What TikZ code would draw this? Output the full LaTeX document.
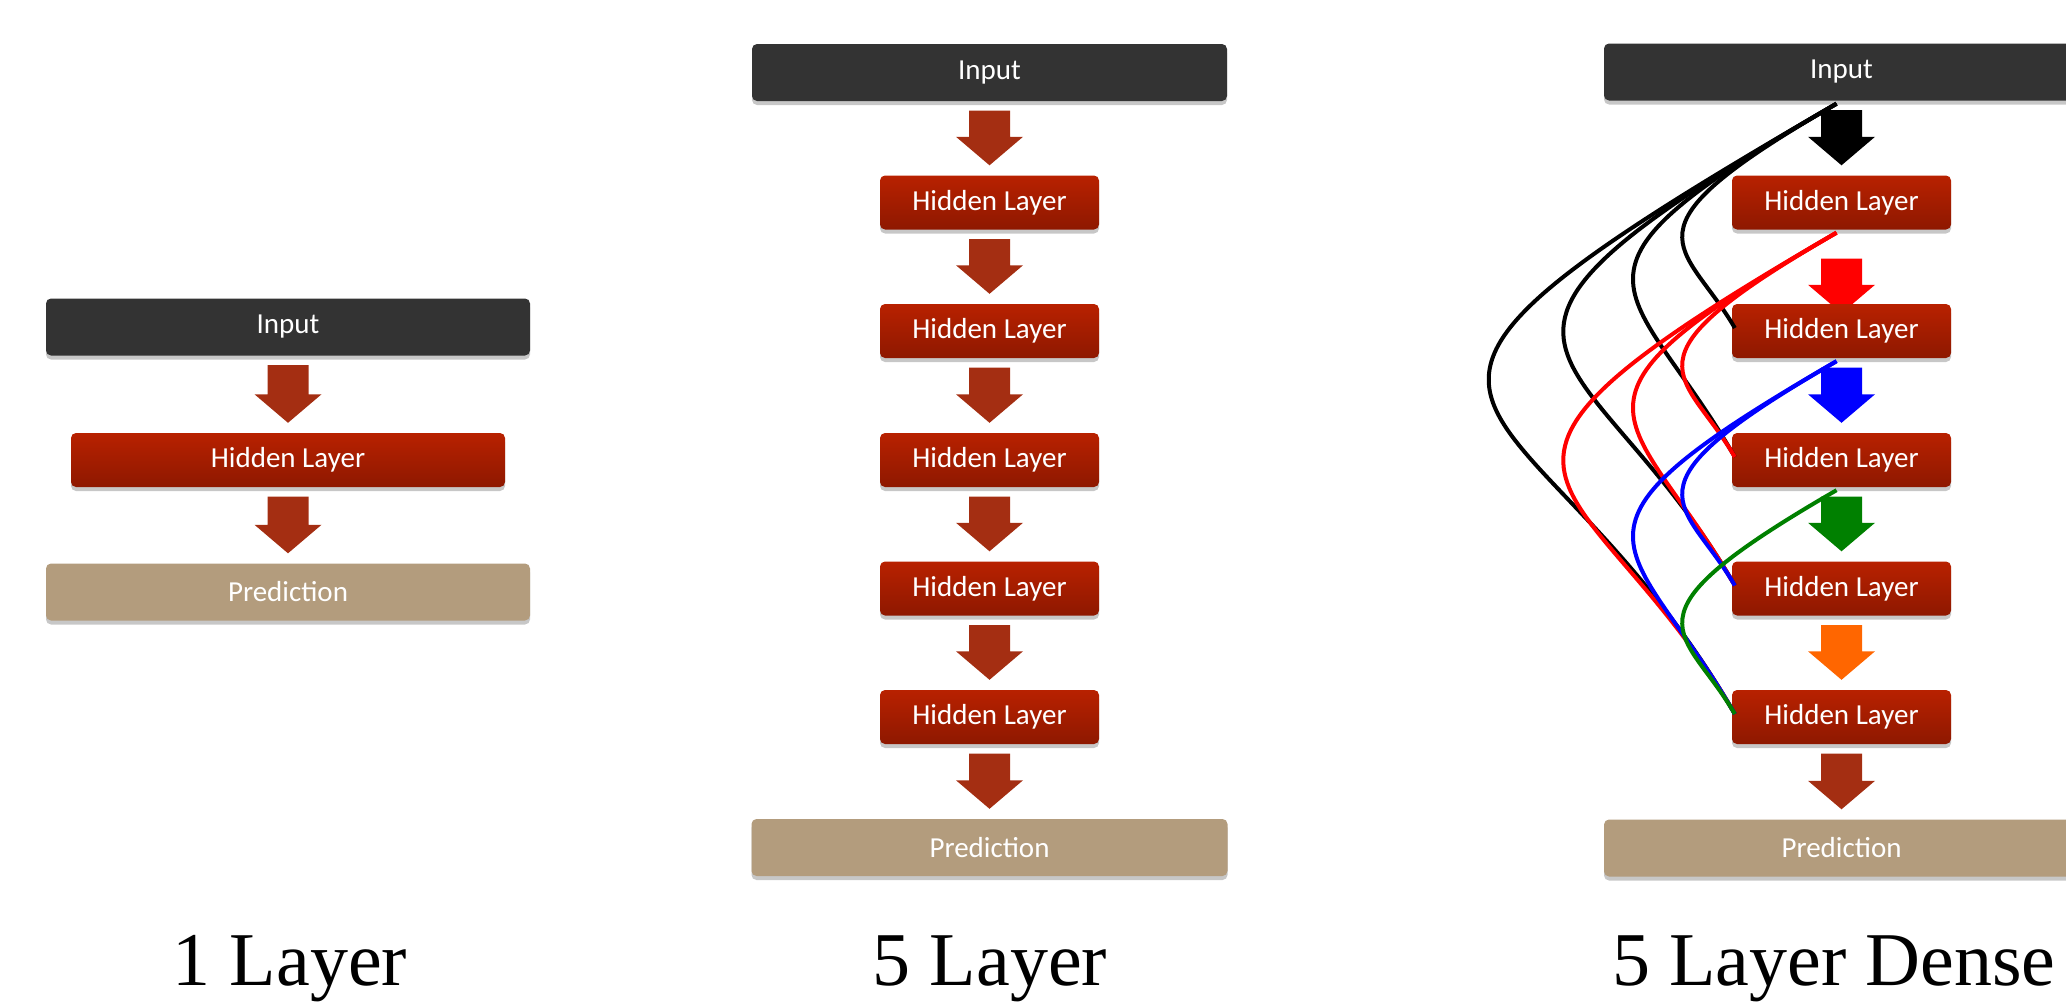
\documentclass[tikz,border=0pt]{standalone}
\usepackage{fontspec}
\setmainfont{Carlito}
\newfontfamily\titlefont{Liberation Serif}
\usetikzlibrary{calc,shadows,backgrounds}
\definecolor{inputgray}{RGB}{51,51,51}
\definecolor{predtan}{RGB}{179,156,125}
\definecolor{hidtop}{RGB}{184,33,0}
\definecolor{hidbot}{RGB}{142,24,0}
\definecolor{arrowbrown}{RGB}{164,46,18}
\definecolor{dgreen}{RGB}{0,128,0}
\definecolor{dorange}{RGB}{255,102,0}
\tikzset{
  boxshadow/.style={drop shadow={shadow xshift=0pt,shadow yshift=-4pt,opacity=0.22,fill=black}},
  basebox/.style={rounded corners=5pt, inner sep=0pt, text=white, font=\fontsize{29}{34}\selectfont, boxshadow},
  inputbox/.style={basebox, fill=inputgray, minimum height=57pt},
  hiddenbox/.style={basebox, top color=hidtop, bottom color=hidbot, minimum width=219pt, minimum height=54pt},
  predbox/.style={basebox, fill=predtan, minimum height=57pt},
  curve/.style={line width=4pt},
  title/.style={font=\titlefont\fontsize{76}{80}\selectfont, anchor=base, inner sep=0pt},
}
% block arrow: [extra downward shift]{colour}{from node}{to node}
\newcommand\blockarrow[4][0]{%
  \fill[#2] let \p1=(#3.south), \p2=(#4.north) in
    (\x1-20.5pt,\y1-9.5pt-#1pt) -- (\x1+20.5pt,\y1-9.5pt-#1pt) --
    (\x1+20.5pt,\y2+38.5pt-#1pt) -- (\x1+33.5pt,\y2+38.5pt-#1pt) --
    (\x1,\y2+10pt-#1pt) -- (\x1-33.5pt,\y2+38.5pt-#1pt) --
    (\x1-20.5pt,\y2+38.5pt-#1pt) -- cycle;}
\begin{document}
\begin{tikzpicture}[x=1pt,y=-1pt]
\useasboundingbox (0,0) rectangle (2066,1004);
\clip (0,0) rectangle (2066,1004);

% ---------- panel 1 ----------
\node[inputbox, minimum width=484pt] (i1) at (288,327) {Input};
\node[hiddenbox, minimum width=434pt] (h1) at (288,460) {Hidden Layer};
\node[predbox, minimum width=484pt] (p1) at (288,592) {Prediction};

% ---------- panel 2 ----------
\node[inputbox, minimum width=475pt] (i2) at (989.5,72.5) {Input};
\node[hiddenbox] (h2a) at (989.5,202.5) {Hidden Layer};
\node[hiddenbox] (h2b) at (989.5,331) {Hidden Layer};
\node[hiddenbox] (h2c) at (989.5,460) {Hidden Layer};
\node[hiddenbox] (h2d) at (989.5,588.5) {Hidden Layer};
\node[hiddenbox] (h2e) at (989.5,717) {Hidden Layer};
\node[predbox, minimum width=476pt] (p2) at (989.5,847.5) {Prediction};

% ---------- panel 3 ----------
\node[inputbox, minimum width=475pt] (i3) at (1841.5,72) {Input};
\node[hiddenbox] (h3a) at (1841.5,202.5) {Hidden Layer};
\node[hiddenbox] (h3b) at (1841.5,331) {Hidden Layer};
\node[hiddenbox] (h3c) at (1841.5,460) {Hidden Layer};
\node[hiddenbox] (h3d) at (1841.5,588.5) {Hidden Layer};
\node[hiddenbox] (h3e) at (1841.5,717) {Hidden Layer};
\node[predbox, minimum width=475pt] (p3) at (1841.5,848) {Prediction};

% ---------- block arrows (behind the boxes) ----------
\begin{pgfonlayer}{background}
\blockarrow{arrowbrown}{i1}{h1}
\blockarrow{arrowbrown}{h1}{p1}
\blockarrow{arrowbrown}{i2}{h2a}
\blockarrow{arrowbrown}{h2a}{h2b}
\blockarrow{arrowbrown}{h2b}{h2c}
\blockarrow{arrowbrown}{h2c}{h2d}
\blockarrow{arrowbrown}{h2d}{h2e}
\blockarrow{arrowbrown}{h2e}{p2}
\blockarrow{black}{i3}{h3a}
\blockarrow[19.5]{red}{h3a}{h3b}
\blockarrow{blue}{h3b}{h3c}
\blockarrow{dgreen}{h3c}{h3d}
\blockarrow{dorange}{h3d}{h3e}
\blockarrow{arrowbrown}{h3e}{p3}
\end{pgfonlayer}

% ---------- dense skip connections ----------
\draw[curve, black] ([xshift=-5pt,yshift=-3pt]i3.south) .. controls +(210:260pt) and +(120:100pt) .. ([xshift=3pt,yshift=3pt]h3b.west);
\draw[curve, black] ([xshift=-5pt,yshift=-3pt]i3.south) .. controls +(210:350pt) and +(120:208pt) .. ([xshift=3pt,yshift=3pt]h3c.west);
\draw[curve, black] ([xshift=-5pt,yshift=-3pt]i3.south) .. controls +(210:510pt) and +(120:296pt) .. ([xshift=3pt,yshift=3pt]h3d.west);
\draw[curve, black] ([xshift=-5pt,yshift=-3pt]i3.south) .. controls +(210:666pt) and +(120:413pt) .. ([xshift=3pt,yshift=3pt]h3e.west);

\draw[curve, red] ([xshift=-5pt,yshift=-3pt]h3a.south) .. controls +(210:260pt) and +(120:100pt) .. ([xshift=3pt,yshift=3pt]h3c.west);
\draw[curve, red] ([xshift=-5pt,yshift=-3pt]h3a.south) .. controls +(210:350pt) and +(120:208pt) .. ([xshift=3pt,yshift=3pt]h3d.west);
\draw[curve, red] ([xshift=-5pt,yshift=-3pt]h3a.south) .. controls +(210:510pt) and +(120:296pt) .. ([xshift=3pt,yshift=3pt]h3e.west);

\draw[curve, blue] ([xshift=-5pt,yshift=-3pt]h3b.south) .. controls +(210:260pt) and +(120:100pt) .. ([xshift=3pt,yshift=3pt]h3d.west);
\draw[curve, blue] ([xshift=-5pt,yshift=-3pt]h3b.south) .. controls +(210:350pt) and +(120:208pt) .. ([xshift=3pt,yshift=3pt]h3e.west);

\draw[curve, dgreen] ([xshift=-5pt,yshift=-3pt]h3c.south) .. controls +(210:260pt) and +(120:100pt) .. ([xshift=3pt,yshift=3pt]h3e.west);

% ---------- titles ----------
\node[title] (t1) at (290,985) {1 Layer};
\node[title] (t2) at (990,985) {5 Layer};
\node[title] (t3) at (1834,985) {5 Layer Dense};
\end{tikzpicture}
\end{document}
